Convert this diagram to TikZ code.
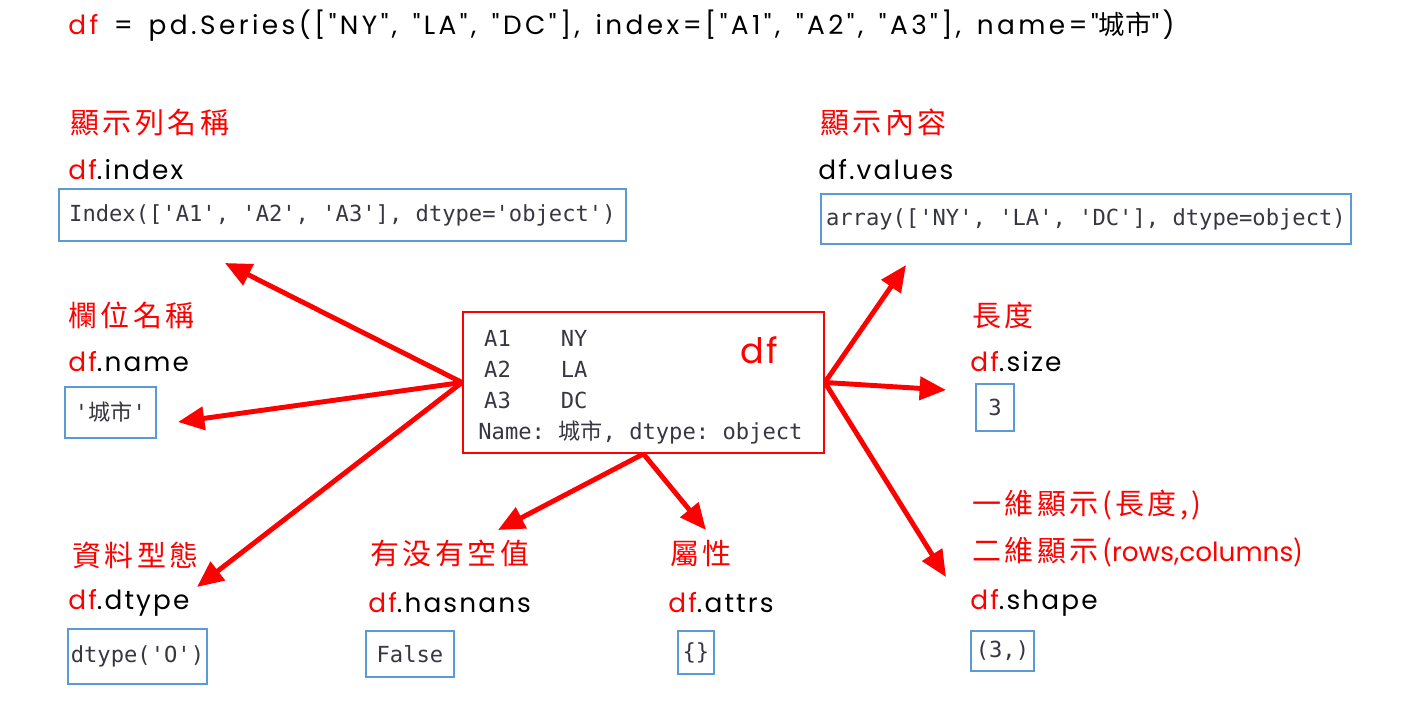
\documentclass[tikz,border=0pt]{standalone}
\usepackage{fontspec}
\setmonofont{DejaVu Sans Mono}
\newfontfamily\hand[LetterSpace=8]{Poppins}
\newfontfamily\handwide[LetterSpace=13,WordSpace=1.5]{Poppins}
\newfontfamily\handplain{Poppins}
\newfontfamily\cjk{Noto Sans CJK TC}
\newfontfamily\cjknote[LetterSpace=12]{Noto Sans CJK TC}
\usepackage{tikz}
\usetikzlibrary{matrix,arrows.meta,positioning}
\definecolor{boxblue}{RGB}{91,155,213}
\definecolor{codegray}{RGB}{55,55,65}
\newcommand\rdf{\textcolor{red}{df}}
\tikzset{
  head/.style={anchor=west, inner sep=0pt, font=\hand\fontsize{15}{18}\selectfont},
  note/.style={anchor=west, inner sep=0pt, text=red, font=\cjknote\fontsize{16.5}{18}\selectfont},
  code/.style={inner sep=0pt, text=codegray, font=\ttfamily\fontsize{12.6}{14}\selectfont},
  outbox/.style={code, draw=boxblue, line width=1.1pt, anchor=north west},
  link/.style={red, line width=2.8pt, -{Triangle[length=15pt,width=13pt]}},
}

\begin{document}
\begin{tikzpicture}[x=0.02cm,y=-0.02cm]
\useasboundingbox[fill=white] (0,0) rectangle (1414,723);

\node[head, font=\handwide\fontsize{15}{18}\selectfont] (call) at (68,26) {\rdf{} = pd.Series(["NY", "LA", "DC"], index=["A1", "A2", "A3"], name="{\cjk 城市}")};

\node[draw=red, line width=1.1pt, minimum width=7.22cm, minimum height=2.82cm, anchor=north west] (df) at (462,311) {};
\matrix (dfm) [matrix of nodes, nodes={code, anchor=base west}, column sep=1.0cm, row sep={0.62cm,between origins}, anchor=north west] at (478,324) {
  A1 & NY \\
  A2 & LA \\
  A3 & DC \\
};
\node[code, anchor=west] (dfname) at (478,432) {Name: {\cjk 城市}, dtype: object};
\node[head, text=red, font=\hand\fontsize{20}{22}\selectfont] (dflabel) at (740,350) {df};

\node[note] (n-index) at (70,122) {顯示列名稱};
\node[head] (h-index) at (68,170) {\rdf.index};
\node[outbox, minimum width=11.34cm, minimum height=1.04cm] (v-index) at (58,188) {Index(['A1', 'A2', 'A3'], dtype='object')};

\node[note] (n-values) at (820,122) {顯示內容};
\node[head] (h-values) at (818,170) {df.values};
\node[outbox, minimum width=10.6cm, minimum height=1.0cm] (v-values) at (820,193) {array(['NY', 'LA', 'DC'], dtype=object)};

\node[note] (n-name) at (68,315) {欄位名稱};
\node[head] (h-name) at (68,362) {\rdf.name};
\node[outbox, minimum width=1.82cm, minimum height=1.02cm] (v-name) at (64,386) {'{\cjk 城市}'};

\node[note] (n-size) at (972,315) {長度};
\node[head] (h-size) at (970,362) {\rdf.size};
\node[outbox, minimum width=0.76cm, minimum height=0.94cm] (v-size) at (975,383) {3};

\node[note] (n-shape1) at (972,505) {一維顯示(長度,)};
\node[note] (n-shape2) at (972,552) {二維顯示({\handplain\fontsize{15}{18}\selectfont rows,columns})};
\node[head] (h-shape) at (970,603) {\rdf.shape};
\node[outbox, minimum width=1.26cm, minimum height=0.8cm] (v-shape) at (970,630) {(3,)};

\node[note] (n-dtype) at (72,555) {資料型態};
\node[head] (h-dtype) at (68,603) {\rdf.dtype};
\node[outbox, minimum width=2.78cm, minimum height=1.1cm] (v-dtype) at (67,628) {dtype('O')};

\node[note] (n-nans) at (370,553) {有没有空值};
\node[head] (h-nans) at (368,603) {\rdf.hasnans};
\node[outbox, minimum width=1.76cm, minimum height=0.92cm] (v-nans) at (365,630) {False};

\node[note] (n-attrs) at (670,553) {屬性};
\node[head] (h-attrs) at (668,603) {\rdf.attrs};
\node[outbox, minimum width=0.72cm, minimum height=0.86cm] (v-attrs) at (677,630) {\{\}};

\coordinate (t-index) at (225,263);
\coordinate (t-name) at (178,422);
\coordinate (t-dtype) at (197,587);
\coordinate (t-nans) at (498,530);
\coordinate (t-attrs) at (706,530);
\coordinate (t-values) at (906,265);
\coordinate (t-size) at (946,390);
\coordinate (t-shape) at (946,577);

\draw[link] (df.west) -- (t-index);
\draw[link] (df.west) -- (t-name);
\draw[link] (df.west) -- (t-dtype);
\draw[link] (df.south) -- (t-nans);
\draw[link] (df.south) -- (t-attrs);
\draw[link] (df.east) -- (t-values);
\draw[link] (df.east) -- (t-size);
\draw[link] (df.east) -- (t-shape);
\end{tikzpicture}
\end{document}
